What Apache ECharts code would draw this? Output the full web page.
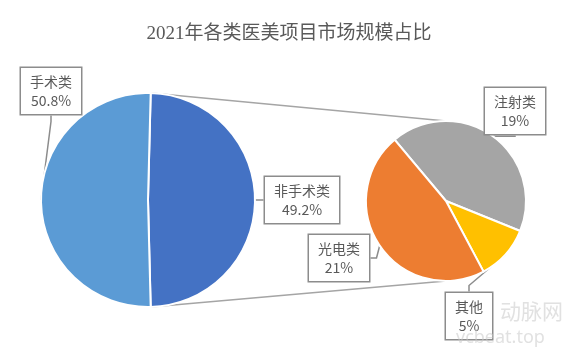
<!DOCTYPE html>
<html><head><meta charset="utf-8">
<script src="https://cdn.jsdelivr.net/npm/echarts@6/dist/echarts.min.js"></script>
<style>html,body{margin:0;padding:0;background:#fff}#c{width:578px;height:362px}</style>
</head><body><div id="c"></div>
<script>
const titleText = '2021年各类医美项目市场规模占比';
const mainNames = ['非手术类', '手术类'];
const mainValues = [49.2, 50.8];
const subNames = ['注射类', '其他', '光电类'];
const subValues = [19, 5, 21];

const mainColors = ['#4472C4', '#5B9BD5'];
const subColors = ['#A5A5A5', '#FFC000', '#ED7D31'];

const C1 = [148, 200], R1 = 107;
const C2 = [446, 201], R2 = 80;

const mainTotal = mainValues.reduce((a, b) => a + b, 0);
const splitHalf = 180 * mainValues[0] / mainTotal; // non-surgical slice centred at 3 o'clock
const mainStart = splitHalf;

function pt(c, r, deg) {
  const a = deg * Math.PI / 180;
  return [c[0] + r * Math.cos(a), c[1] - r * Math.sin(a)];
}
const topEdge = pt(C1, R1, splitHalf);
const botEdge = pt(C1, R1, -splitHalf);

const mainLabelPos = [[302, 200], [51, 91]];
const subLabelPos = [[515, 111], [469, 316], [339, 258]];

const labelStyle = {
  show: true,
  position: 'outside',
  alignTo: 'none',
  overflow: 'none',
  formatter: p => p.name + '\n' + p.value + '%',
  color: '#595959',
  fontSize: 14,
  lineHeight: 19,
  fontFamily: 'Noto Sans CJK SC, Noto Sans, sans-serif',
  align: 'center',
  backgroundColor: '#fff',
  borderColor: '#8c8c8c',
  borderWidth: 1.5,
  padding: [4, 9]
};
const lineStyle = { show: true, length: 6, length2: 6, lineStyle: { color: '#8c8c8c', width: 1.5 } };

const chart = echarts.init(document.getElementById('c'));
chart.setOption({
  backgroundColor: '#fff',
  animation: false,
  title: {
    text: titleText, left: 'center', top: 20,
    textStyle: { fontSize: 19, fontWeight: 'normal', color: '#595959',
      fontFamily: 'Liberation Serif, DejaVu Serif, Noto Sans CJK SC, serif' }
  },
  graphic: [
    { type: 'line', z: 0, shape: { x1: topEdge[0], y1: topEdge[1], x2: C2[0], y2: C2[1] - R2 },
      style: { stroke: '#A5A5A5', lineWidth: 1.5 } },
    { type: 'line', z: 0, shape: { x1: botEdge[0], y1: botEdge[1], x2: C2[0], y2: C2[1] + R2 },
      style: { stroke: '#A5A5A5', lineWidth: 1.5 } },
    { type: 'text', z: 100, left: 500, top: 301,
      style: { text: '动脉网', fontSize: 21, fill: 'rgba(200,200,200,0.55)', fontFamily: 'Noto Sans CJK SC' } },
    { type: 'text', z: 100, left: 456, top: 329,
      style: { text: 'vcbeat.top', fontSize: 18, fill: 'rgba(200,200,200,0.55)', fontFamily: 'Noto Sans, sans-serif' } }
  ],
  series: [
    {
      type: 'pie', center: C1, radius: R1, startAngle: mainStart, clockwise: true,
      avoidLabelOverlap: false,
      itemStyle: { borderColor: '#fff', borderWidth: 2 },
      label: labelStyle, labelLine: lineStyle,
      labelLayout: p => ({ x: mainLabelPos[p.dataIndex][0], y: mainLabelPos[p.dataIndex][1], align: 'center', verticalAlign: 'middle' }),
      emphasis: { disabled: true },
      data: mainNames.map((n, i) => ({ name: n, value: mainValues[i], itemStyle: { color: mainColors[i] } }))
    },
    {
      type: 'pie', center: C2, radius: R2, startAngle: 130, clockwise: true,
      avoidLabelOverlap: false,
      itemStyle: { borderColor: '#fff', borderWidth: 2 },
      label: labelStyle, labelLine: lineStyle,
      labelLayout: p => ({ x: subLabelPos[p.dataIndex][0], y: subLabelPos[p.dataIndex][1], align: 'center', verticalAlign: 'middle' }),
      emphasis: { disabled: true },
      data: subNames.map((n, i) => ({ name: n, value: subValues[i], itemStyle: { color: subColors[i] } }))
    }
  ]
});
</script></body></html>
